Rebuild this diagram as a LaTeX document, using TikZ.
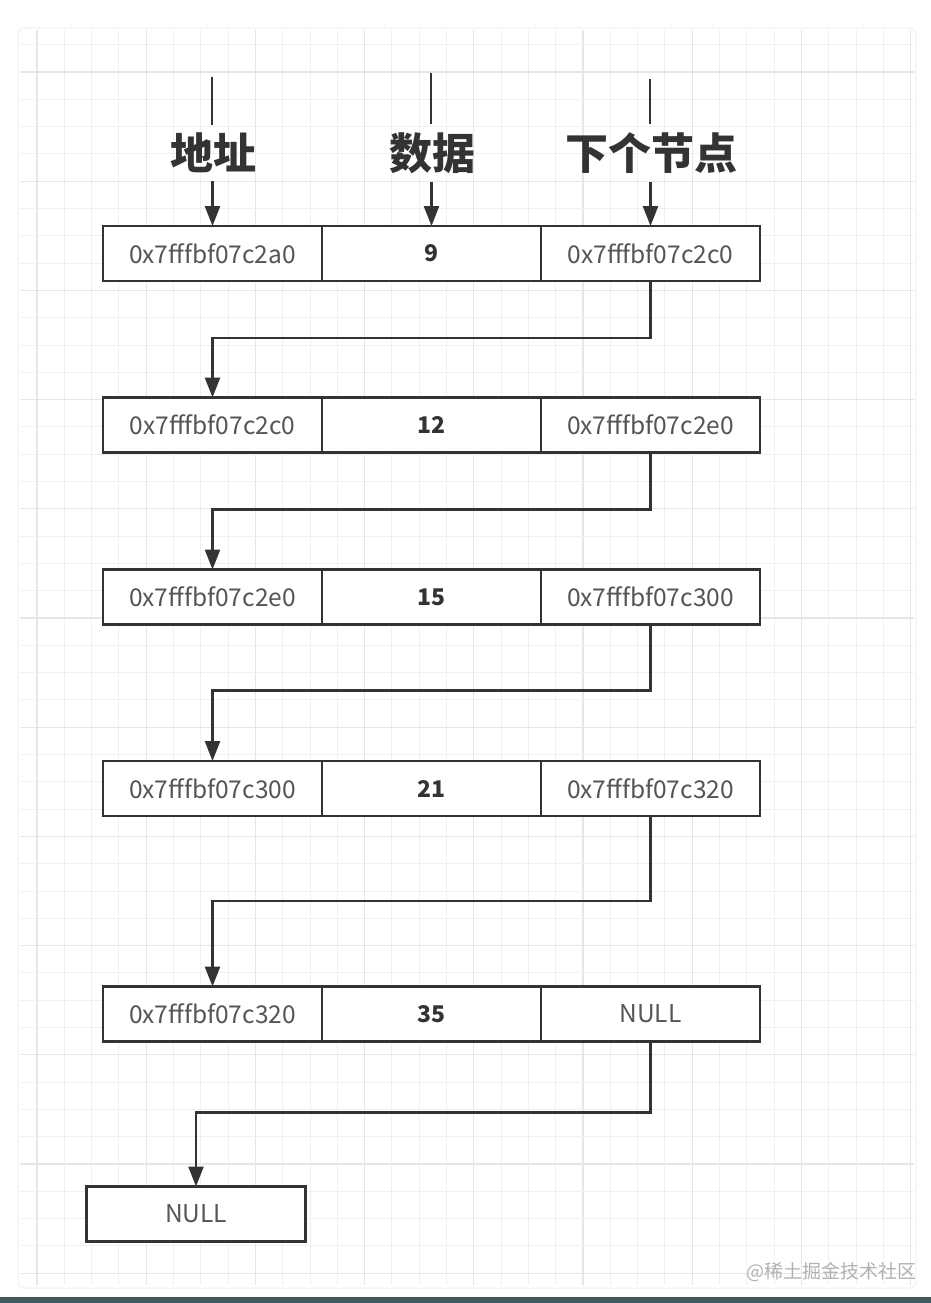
\documentclass[tikz,border=0pt]{standalone}
\usepackage{fontspec}
\setmainfont{Noto Sans CJK SC}
\usetikzlibrary{arrows.meta}
\definecolor{linec}{HTML}{333333}
\definecolor{txt}{HTML}{555555}
\definecolor{gmin}{HTML}{F0F0F0}
\definecolor{gmaj}{HTML}{E6E6E6}
\definecolor{band}{HTML}{3A5A64}
\begin{document}
\begin{tikzpicture}[x=1pt,y=-1pt,
  cell/.style={draw=linec,line width=2.8pt,fill=white,minimum width=219pt,minimum height=55pt,inner sep=0pt,outer sep=0pt,font=\fontsize{24.5}{26}\selectfont,text=txt},
  numcell/.style={cell,font=\fontsize{23}{26}\selectfont\bfseries,text=linec},
  head/.style={font=\fontsize{43}{46}\selectfont\bfseries,text=linec,inner xsep=0pt,inner ysep=8pt},
  conn/.style={draw=linec,line width=2.6pt},
  arr/.style={conn,-{Triangle[length=20pt,width=15pt]}},
]
\useasboundingbox (0,0) rectangle (931,1303);
\fill[white] (0,0) rectangle (931,1303);
\draw[gmin,line width=1pt,rounded corners=6pt] (18,28) rectangle (916,1288);
% grid
\foreach \i in {0,...,32}{
  \pgfmathsetmacro{\xx}{37+27.3*\i}
  \pgfmathtruncatemacro{\m}{mod(\i,4)}
  \ifnum\m=0 \draw[gmaj,line width=1.1pt] (\xx,30) -- (\xx,1285);
  \else \draw[gmin,line width=1pt] (\xx,30) -- (\xx,1285); \fi
}
\foreach \j in {-1,...,44}{
  \pgfmathsetmacro{\yy}{72+27.3*\j}
  \pgfmathtruncatemacro{\m}{mod(\j+4,4)}
  \ifnum\m=0 \draw[gmaj,line width=1.1pt] (20,\yy) -- (914,\yy);
  \else \draw[gmin,line width=1pt] (20,\yy) -- (914,\yy); \fi
}
\fill[band] (0,1297) rectangle (931,1303);

% header
\coordinate (t1) at (212,77);
\coordinate (t2) at (431,73);
\coordinate (t3) at (650,79);
\node[head] (h1) at (213,153) {地址};
\node[head] (h2) at (432,153) {数据};
\node[head] (h3) at (651,153) {下个节点};

% rows
\node[cell]    (a1) at (212.5,253.5) {0x7fffbf07c2a0};
\node[numcell] (b1) at (431.5,253.5) {9};
\node[cell]    (c1) at (650.5,253.5) {0x7fffbf07c2c0};

\node[cell]    (a2) at (212.5,425) {0x7fffbf07c2c0};
\node[numcell] (b2) at (431.5,425) {12};
\node[cell]    (c2) at (650.5,425) {0x7fffbf07c2e0};

\node[cell]    (a3) at (212.5,597) {0x7fffbf07c2e0};
\node[numcell] (b3) at (431.5,597) {15};
\node[cell]    (c3) at (650.5,597) {0x7fffbf07c300};

\node[cell]    (a4) at (212.5,788.5) {0x7fffbf07c300};
\node[numcell] (b4) at (431.5,788.5) {21};
\node[cell]    (c4) at (650.5,788.5) {0x7fffbf07c320};

\node[cell]    (a5) at (212.5,1014) {0x7fffbf07c320};
\node[numcell] (b5) at (431.5,1014) {35};
\node[cell]    (c5) at (650.5,1014) {NULL};

\node[cell] (nl) at (196,1214) {NULL};

% header connectors
\draw[conn] (t1) -- (t1 |- h1.north);
\draw[conn] (t2) -- (t2 |- h2.north);
\draw[conn] (t3) -- (t3 |- h3.north);
\draw[arr] (h1.south -| a1.north) -- (a1.north);
\draw[arr] (h2.south -| b1.north) -- (b1.north);
\draw[arr] (h3.south -| c1.north) -- (c1.north);

% chain connectors
\draw[arr] (c1.south) -- ++(0,57) -| (a2.north);
\draw[arr] (c2.south) -- ++(0,57) -| (a3.north);
\draw[arr] (c3.south) -- ++(0,66) -| (a4.north);
\draw[arr] (c4.south) -- ++(0,85) -| (a5.north);
\draw[arr] (c5.south) -- ++(0,71) -| (nl.north);

% watermark
\node[text=black!30,font=\fontsize{19}{21}\selectfont,anchor=east] (wm) at (920,1272) {@稀土掘金技术社区};
\end{tikzpicture}
\end{document}
